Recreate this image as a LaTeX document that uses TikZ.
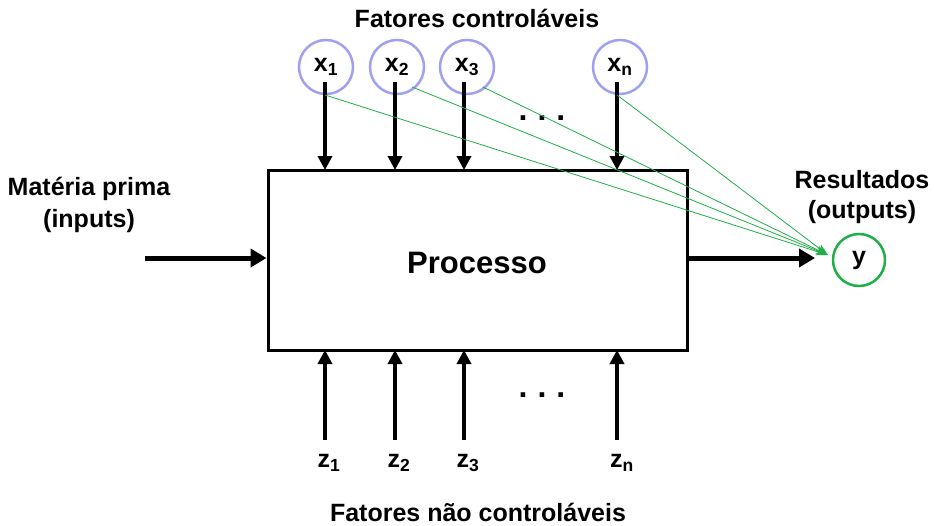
\documentclass[tikz,border=0pt]{standalone}
\usepackage{fontspec}
\setmainfont{Liberation Sans}
\usetikzlibrary{arrows.meta}
\definecolor{lav}{RGB}{160,160,240}
\definecolor{grn}{RGB}{30,175,70}
\begin{document}
\begin{tikzpicture}[x=1pt,y=-1pt,
  lbl/.style={font=\bfseries\fontsize{25}{30}\selectfont, align=center, inner sep=0pt},
  sym/.style={font=\bfseries\fontsize{25}{26}\selectfont, inner sep=0pt},
  xc/.style={circle, draw=lav, line width=2.5pt, minimum size=54pt, inner sep=0pt, font=\bfseries\fontsize{25}{26}\selectfont},
  fat/.style={line width=4pt, -{Triangle[length=14pt,width=14pt]}},
  big/.style={line width=5pt, -{Triangle[length=16pt,width=18pt]}},
  gl/.style={grn, line width=0.8pt, -{Stealth[length=12pt,width=8pt]}},
  dotsl/.style={font=\bfseries\fontsize{32}{32}\selectfont, inner sep=0pt}]
\useasboundingbox (0,0) rectangle (934,525);
\node[draw, line width=3pt, minimum width=419pt, minimum height=180pt, inner sep=0pt] (box) at (477.5,260) {};
\node[font=\bfseries\fontsize{31}{34}\selectfont] (proc) at (477,263) {Processo};
\node[lbl] (tt) at (477,18) {Fatores controláveis};
\node[lbl] (bt) at (478,512) {Fatores não controláveis};
\node[lbl, font=\bfseries\fontsize{25}{32}\selectfont] (inp) at (89,205) {Matéria prima\\(inputs)};
\node[lbl] (outp) at (862,197) {Resultados\\(outputs)};
\node[circle, draw=grn, line width=2.5pt, minimum size=52pt, inner sep=0pt, font=\bfseries\fontsize{25}{26}\selectfont] (y) at (859,260) {y};
\node[xc] (x1) at (326,67) {x\textsubscript{1}};
\node[xc] (x2) at (397,67) {x\textsubscript{2}};
\node[xc] (x3) at (467,67) {x\textsubscript{3}};
\node[xc] (xn) at (620,67) {x\textsubscript{n}};
\coordinate (a1) at (325,82); \coordinate (b1) at (325,170);
\coordinate (a2) at (395,82); \coordinate (b2) at (395,170);
\coordinate (a3) at (464,82); \coordinate (b3) at (464,170);
\coordinate (an) at (617,82); \coordinate (bn) at (617,170);
\draw[fat] (a1) -- (b1);
\draw[fat] (a2) -- (b2);
\draw[fat] (a3) -- (b3);
\draw[fat] (an) -- (bn);
\node[dotsl] (d1) at (542,118) {.\hspace{10pt}.\hspace{10pt}.};
\node[dotsl] (d2) at (542,395) {.\hspace{10pt}.\hspace{10pt}.};
\coordinate (c1) at (325,440); \coordinate (e1) at (325,350);
\coordinate (c2) at (395,440); \coordinate (e2) at (395,350);
\coordinate (c3) at (464,440); \coordinate (e3) at (464,350);
\coordinate (cn) at (617,440); \coordinate (en) at (617,350);
\draw[fat] (c1) -- (e1);
\draw[fat] (c2) -- (e2);
\draw[fat] (c3) -- (e3);
\draw[fat] (cn) -- (en);
\node[sym] (z1) at (329,463) {z\textsubscript{1}};
\node[sym] (z2) at (399,463) {z\textsubscript{2}};
\node[sym] (z3) at (468,463) {z\textsubscript{3}};
\node[sym] (zn) at (622,463) {z\textsubscript{n}};
\coordinate (in0) at (145,258);
\draw[big] (in0) -- (box.west |- in0);
\coordinate (out1) at (815,258);
\draw[big] (box.east |- out1) -- (out1);
\coordinate (g1) at (325,95);
\coordinate (g2) at (412,87);
\coordinate (g3) at (483,87);
\coordinate (gn) at (617,95);
\coordinate (gt) at (828,255);
\draw[gl] (g1) -- (gt);
\draw[gl] (g2) -- (gt);
\draw[gl] (g3) -- (gt);
\draw[gl] (gn) -- (gt);
\end{tikzpicture}
\end{document}
